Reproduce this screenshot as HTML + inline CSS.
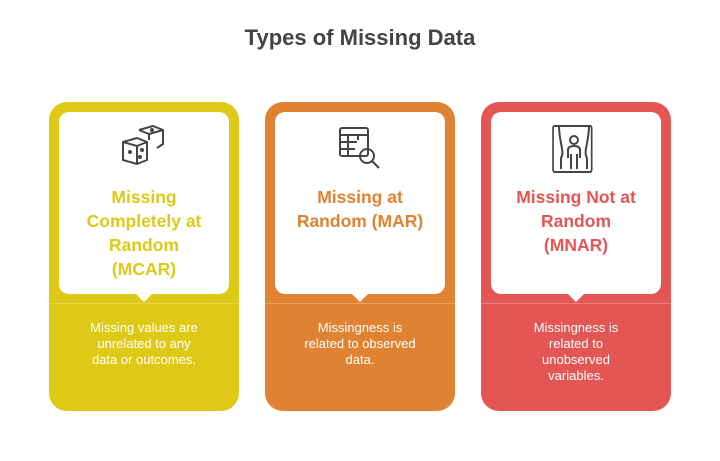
<!DOCTYPE html>
<html><head><style>
body{margin:0;width:720px;height:461px;background:#fff;font-family:"Liberation Sans",sans-serif;position:relative;overflow:hidden}
.t{position:absolute;top:25px;left:0;width:720px;text-align:center;font-size:22px;font-weight:bold;color:#444}
.card{position:absolute;top:102px;width:190px;height:309px;border-radius:18px}
.in{position:absolute;left:10px;top:10px;width:170px;height:182px;background:#fff;border-radius:10px}
.in:after{content:"";position:absolute;left:77px;bottom:-8px;border-left:8px solid transparent;border-right:8px solid transparent;border-top:8px solid #fff}
.h{position:absolute;left:0;width:170px;text-align:center;font-size:17.5px;font-weight:bold;line-height:24px}
.line{position:absolute;left:0;top:201px;width:190px;height:1px;background:rgba(255,255,255,0.25)}
.b{position:absolute;left:0;top:218px;width:190px;text-align:center;color:#fff;font-size:13px;line-height:16px}
svg{position:absolute;left:60px;top:12px}
</style></head><body>
<div class="t">Types of Missing Data</div>

<div class="card" style="left:49px;background:#DEC917">
 <div class="in">
  <svg width="50" height="50" viewBox="0 0 50 50" fill="none" stroke="#444" stroke-width="2" stroke-linejoin="round">
   <path d="M20 6 L34 2 L44 6 L44 20 L38 24"/><path d="M20 6 L30 10 L44 6"/><path d="M30 10 L30 16"/>
   <path d="M4 18 L18 14 L28 18 L28 36 L18 40 L4 36 Z"/><path d="M4 18 L18 22 L28 18"/><path d="M18 22 L18 40"/>
   <circle cx="11" cy="28" r="1" fill="#444"/><circle cx="23" cy="26" r="1" fill="#444"/><circle cx="21" cy="33" r="1" fill="#444"/><circle cx="33" cy="6" r="1" fill="#444"/>
  </svg>
  <div class="h" style="top:73px;color:#DEC917">Missing<br>Completely at<br>Random<br>(MCAR)</div>
 </div>
 <div class="line"></div>
 <div class="b">Missing values are<br>unrelated to any<br>data or outcomes.</div>
</div>

<div class="card" style="left:265px;background:#DF8231">
 <div class="in">
  <svg width="50" height="50" viewBox="0 0 50 50" fill="none" stroke="#444" stroke-width="2">
   <rect x="5" y="4" width="28" height="28" rx="2"/><path d="M5 11 H33 M5 18 H22 M5 25 H20 M13 11 V32 M23 11 V16"/>
   <circle cx="32" cy="32" r="7"/><path d="M37 37 L44 44"/>
  </svg>
  <div class="h" style="top:73px;color:#DF8231">Missing at<br>Random (MAR)</div>
 </div>
 <div class="line"></div>
 <div class="b">Missingness is<br>related to observed<br>data.</div>
</div>

<div class="card" style="left:481px;background:#E35653">
 <div class="in">
  <svg width="50" height="50" viewBox="0 0 50 50" fill="none" stroke="#444" stroke-width="2" stroke-linejoin="round">
   <rect x="6" y="2" width="46" height="46" rx="2" transform="translate(-3 0) scale(0.84 1)"/>
   <path d="M8 2 C8 18 14 28 10 34 L10 45 M38 2 C38 18 32 28 36 34 L36 45"/>
   <circle cx="23" cy="16" r="4"/><path d="M17 34 V26 Q17 22 23 22 Q29 22 29 26 V34 M20 30 V45 M26 30 V45"/>
  </svg>
  <div class="h" style="top:73px;color:#E35653">Missing Not at<br>Random<br>(MNAR)</div>
 </div>
 <div class="line"></div>
 <div class="b">Missingness is<br>related to<br>unobserved<br>variables.</div>
</div>
</body></html>
